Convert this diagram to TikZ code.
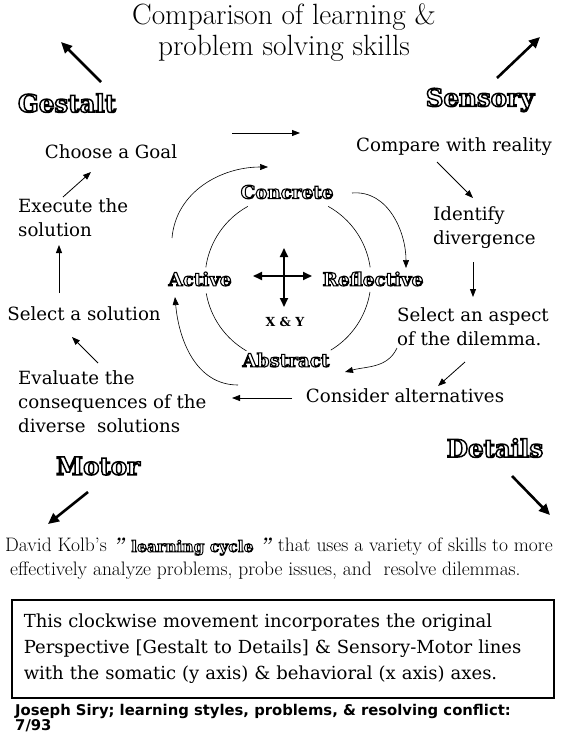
\documentclass[tikz,border=0pt]{standalone}
\usepackage{fontspec}
\usetikzlibrary{arrows.meta,positioning}
\newfontfamily\labelfont{DejaVu Serif}
\newfontfamily\footfont{DejaVu Sans}
\newfontfamily\hollowfont[FakeBold=6]{DejaVu Serif Bold}
% white glyphs with a black stroke
\newcommand{\hollow}[1]{\special{pdf:bcolor [1] [0]}#1\special{pdf:ecolor}}
\newcommand{\kolbQuote}{\textbf{\textit{"}}}

\begin{document}
\begin{tikzpicture}[
    x=1pt, y=1pt,
    every node/.style={inner sep=0pt},
    titleText/.style={font=\fontsize{29.3}{31}\selectfont, align=center},
    stepText/.style={font=\labelfont\fontsize{18.2}{24}\selectfont, align=left},
    poleText/.style={font=\hollowfont\fontsize{24.5}{24}\selectfont},
    modeText/.style={font=\hollowfont\fontsize{18.3}{18}\selectfont},
    kolbText/.style={font=\fontsize{19.5}{24}\selectfont, align=left},
    summaryBox/.style={draw, line width=1.6pt, font=\labelfont\fontsize{18}{26}\selectfont,
        align=left, text width=518pt, inner xsep=12pt, minimum width=542pt, minimum height=98pt},
    footText/.style={font=\footfont\bfseries\fontsize{14.8}{15.5}\selectfont, align=left},
    flowArrow/.style={-{Triangle[length=8pt,width=6pt]}, line width=0.8pt},
    cycleArc/.style={-{Triangle[length=8pt,width=6pt]}, line width=0.6pt},
    ringArc/.style={line width=0.6pt},
    poleArrow/.style={-{Triangle[length=11pt,width=10pt]}, line width=2.6pt},
    crossArrow/.style={{Triangle[length=9pt,width=8pt]}-{Triangle[length=9pt,width=8pt]}, line width=1.8pt}
]
    % Page
    \fill[white] (0,0) rectangle (565,-734);
    \useasboundingbox (0,0) rectangle (565,-734);

    % Title
    \node[titleText] (title) at (284,-33) {Comparison of learning \&\\problem solving skills};

    % Poles and their arrows
    \node[poleText] (gestalt) at (67,-103) {\hollow{Gestalt}};
    \node[poleText] (sensory) at (480,-100) {\hollow{Sensory}};
    \node[poleText] (motor) at (98,-466) {\hollow{Motor}};
    \node[poleText] (details) at (495,-448) {\hollow{Details}};
    \draw[poleArrow] ([shift={(34,21)}]gestalt.center) -- ++(-40,40);
    \draw[poleArrow] ([shift={(17,22)}]sensory.center) -- ++(43,41);
    \draw[poleArrow] ([shift={(-10,-26)}]motor.center) -- ++(-40,-32);
    \draw[poleArrow] ([shift={(17,-28)}]details.center) -- ++(38,-39);

    % Problem solving steps
    \node[stepText] (goal) at (111,-152) {Choose a Goal};
    \node[stepText] (compare) at (454,-147) {Compare with reality};
    \node[stepText, anchor=west] (identify) at (433,-228) {Identify\\divergence};
    \node[stepText, anchor=west] (aspect) at (397,-327) {Select an aspect\\of the dilemma.};
    \node[stepText] (consider) at (405,-396) {Consider alternatives};
    \node[stepText, anchor=west] (evaluate) at (18,-402) {Evaluate the\\consequences of the\\diverse~ solutions};
    \node[stepText] (selsol) at (84,-314) {Select a solution};
    \node[stepText, anchor=west] (execute) at (18,-218) {Execute the\\solution};

    % Clockwise flow between steps
    \draw[flowArrow] ([shift={(121,19)}]goal.center) -- ([shift={(-154,14)}]compare.center);
    \draw[flowArrow] ([shift={(-17,-15)}]compare.center) -- ([shift={(40,30)}]identify.west);
    \draw[flowArrow] ([shift={(40,-34)}]identify.west) -- ([shift={(76,30)}]aspect.west);
    \draw[flowArrow] ([shift={(68,-35)}]aspect.west) -- ([shift={(33,10)}]consider.center);
    \draw[flowArrow] ([shift={(-113,-2)}]consider.center) -- ([shift={(214,4)}]evaluate.west);
    \draw[flowArrow] ([shift={(80,39)}]evaluate.west) -- ([shift={(-12,-23)}]selsol.center);
    \draw[flowArrow] ([shift={(-25,21)}]selsol.center) -- ([shift={(41,-27)}]execute.west);
    \draw[flowArrow] ([shift={(45,21)}]execute.west) -- ([shift={(-20,-20)}]goal.center);

    % Learning modes
    \coordinate (ring) at (288,-279);
    \node[modeText] (concrete) at (287,-192) {\hollow{Concrete}};
    \node[modeText] (reflective) at (373,-279) {\hollow{Reflective}};
    \node[modeText] (abstract) at (286,-360) {\hollow{Abstract}};
    \node[modeText] (active) at (200,-279) {\hollow{Active}};
    \node[font=\labelfont\bfseries\fontsize{12.5}{12}\selectfont] (xy) at (285,-322) {X \& Y};

    % Inner ring
    \foreach \a/\b in {119/172, 8/61, -59/-9, -170/-120}
        \draw[ringArc] (ring) ++(\a:83) arc[start angle=\a, end angle=\b, radius=83];

    % Outer cycle
    \draw[cycleArc] ([shift={(-28,41)}]active.center) to[out=85,in=180] ([shift={(-19,25)}]concrete.center);
    \draw[cycleArc] ([shift={(65,-1)}]concrete.center) to[out=5,in=90] ([shift={(33,11)}]reflective.center);
    \draw[cycleArc] ([shift={(24,-69)}]reflective.center) to[out=-115,in=15] ([shift={(59,-12)}]abstract.center);
    \draw[cycleArc] ([shift={(-48,-25)}]abstract.center) to[out=180,in=-85] ([shift={(-25,-18)}]active.center);

    % Axes cross
    \coordinate (axes) at (284,-276);
    \draw[crossArrow] ([xshift=-31]axes) -- ([xshift=28]axes);
    \draw[crossArrow] ([yshift=28]axes) -- ([yshift=-31]axes);

    % Caption
    \node[kolbText, anchor=north west] (kolb) at (5,-538) {David Kolb's \kolbQuote\ {\hollowfont\fontsize{15.5}{15}\selectfont\hollow{learning cycle}}\ \kolbQuote\ that uses a variety of skills to more\\\hspace{5pt}effectively analyze problems, probe issues, and~ resolve dilemmas.};

    % Summary box
    \node[summaryBox, anchor=north west] (summary) at (11,-599) {This clockwise movement incorporates the original\\Perspective [Gestalt to Details] \& Sensory-Motor lines\\with the somatic (y axis) \& behavioral (x axis) axes.};

    % Credit
    \node[footText, anchor=north west] (credit) at (15,-704) {Joseph Siry; learning styles, problems, \& resolving conflict:\\7/93};
\end{tikzpicture}
\end{document}
